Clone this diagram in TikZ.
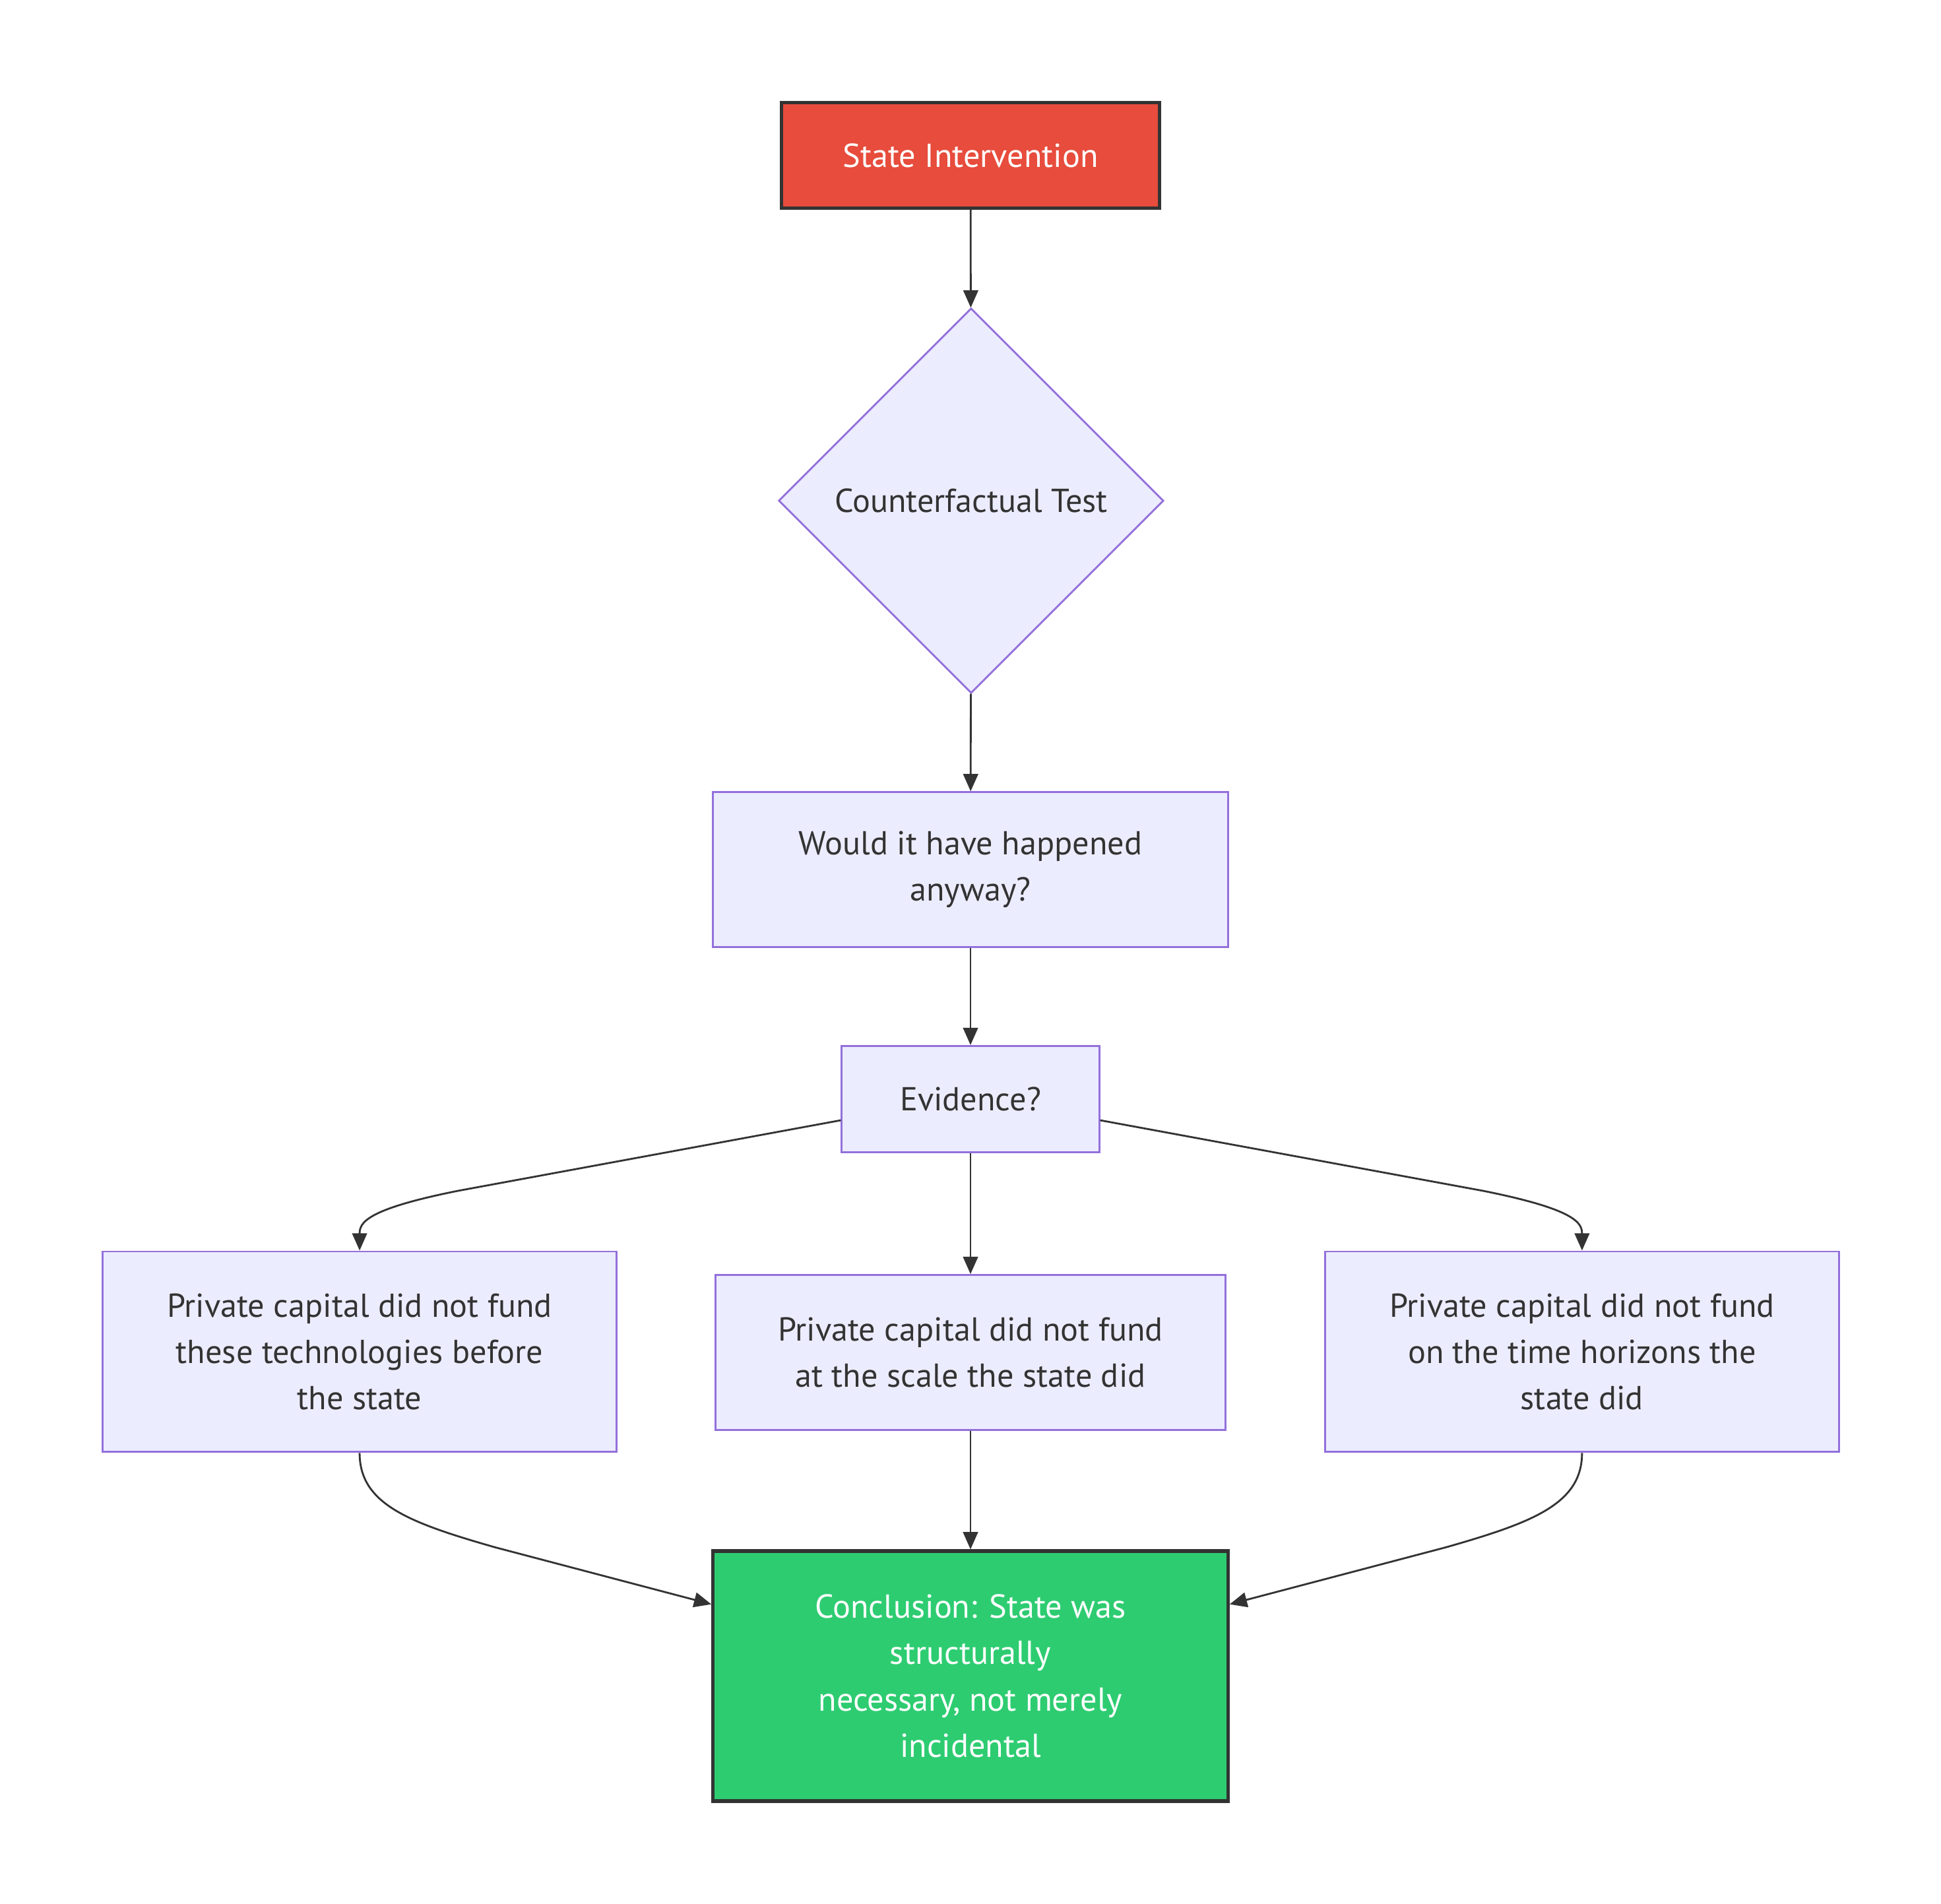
\documentclass[tikz,border=0pt]{standalone}
\usepackage{fontspec}
\setmainfont{PT Sans}
\usepackage{tikz}
\usetikzlibrary{shapes.geometric}
\usetikzlibrary{arrows.meta}
\usepackage{xcolor}
\definecolor{ColFill}{RGB}{236,236,255}
\definecolor{ColLine}{RGB}{147,112,219}
\definecolor{ColRed}{RGB}{231,76,60}
\definecolor{ColGreen}{RGB}{46,204,113}
\definecolor{ColDark}{RGB}{51,51,51}
\tikzstyle{NodeBox}=[rectangle,draw=ColLine,fill=ColFill,line width=1.5pt,text=ColDark,
align=center,font=\fontsize{26.8}{37.5}\selectfont]
\tikzstyle{NodeTest}=[NodeBox,diamond,aspect=1,minimum width=311pt,minimum height=311pt]
\tikzstyle{NodeStart}=[NodeBox,draw=ColDark,fill=ColRed,text=white,line width=2.7pt]
\tikzstyle{NodeEnd}=[NodeBox,draw=ColDark,fill=ColGreen,text=white,line width=2.7pt]
\tikzstyle{EdgeFlow}=[ColDark,line width=1.5pt,-{Triangle[length=14pt,width=12pt]}]

\begin{document}
\begin{tikzpicture}[x=1pt,y=-1pt]
    \useasboundingbox (0,0) rectangle (1568,1538);
        \node[NodeStart,minimum width=305pt,minimum height=85pt](state)at(784,125.5){State Intervention};
        \node[NodeTest](test)at(784.5,404.5){Counterfactual Test};
        \node[NodeBox,minimum width=416pt,minimum height=125pt](would)at(784,702.5){Would it have happened\\anyway?};
        \node[NodeBox,minimum width=208pt,minimum height=86pt](evid)at(784,888){Evidence?};
        \node[NodeBox,minimum width=415pt,minimum height=162pt](before)at(290.5,1092){Private capital did not fund\\these technologies before\\the state};
        \node[NodeBox,minimum width=412pt,minimum height=125pt](scale)at(784,1092.5){Private capital did not fund\\at the scale the state did};
        \node[NodeBox,minimum width=415pt,minimum height=162pt](horizon)at(1278,1092){Private capital did not fund\\on the time horizons the\\state did};
        \node[NodeEnd,minimum width=416pt,minimum height=202pt](concl)at(784,1354){Conclusion: State was\\structurally\\necessary, not merely\\incidental};
        \draw[EdgeFlow](state)--(test);
        \draw[EdgeFlow](test)--(would);
        \draw[EdgeFlow](would)--(evid);
        \draw[EdgeFlow]([yshift=-17pt]evid.west)--(370,962)..controls(295,977)and(290.5,988)..(before.north);
        \draw[EdgeFlow](evid)--(scale);
        \draw[EdgeFlow]([yshift=-17pt]evid.east)--(1198,962)..controls(1273,977)and(1278,988)..(horizon.north);
        \draw[EdgeFlow](before.south)..controls(290.5,1215)and(330,1230)..(400,1250)--([yshift=58pt]concl.west);
        \draw[EdgeFlow](scale)--(concl);
        \draw[EdgeFlow](horizon.south)..controls(1278,1215)and(1238,1230)..(1168,1250)--([yshift=58pt]concl.east);
    \end{tikzpicture}
\end{document}
